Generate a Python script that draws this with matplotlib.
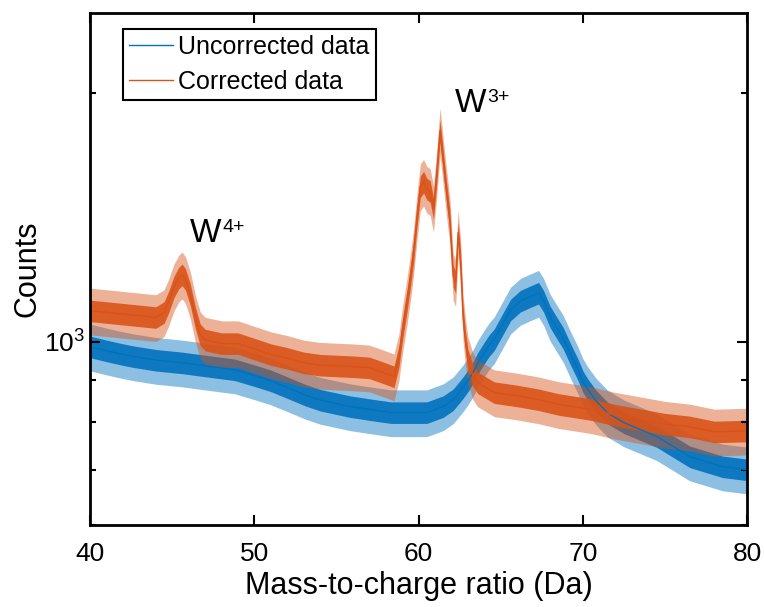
import numpy as np
import matplotlib
matplotlib.use("Agg")
import matplotlib.pyplot as plt
from matplotlib.ticker import LogLocator, NullFormatter, FixedLocator, FixedFormatter

plt.rcParams['font.family'] = ['Liberation Sans', 'DejaVu Sans']
plt.rcParams['mathtext.fontset'] = 'custom'
plt.rcParams['mathtext.rm'] = 'Liberation Sans'
plt.rcParams['mathtext.default'] = 'regular'

# uncorrected spectrum (band centre)
mz_unc = [40.0, 41.0, 42.0, 42.7, 44.0, 45.6, 47.0, 48.8, 50.0, 51.0, 51.9, 53.1, 54.0,
          55.8, 57.0, 58.3, 60.5, 61.5, 62.1, 62.7, 63.0, 63.3, 63.6, 64.0, 64.3, 64.6,
          65.0, 65.6, 66.2, 66.8, 67.3, 67.6, 68.0, 68.4, 68.8, 69.2, 69.7, 70.0, 70.3,
          70.8, 71.5, 72.5, 74.5, 76.5, 78.5, 80.0]
counts_unc = [986, 975, 965, 959, 950, 943, 935, 925, 910, 897, 882, 862, 850,
              835, 828, 821, 821, 835, 851, 880, 897, 917, 942, 970, 990, 1006,
              1040, 1093, 1120, 1134, 1145, 1120, 1072, 1040, 1010, 970, 925, 895, 875,
              848, 820, 798, 768, 726, 706, 700]

# corrected spectrum
mz_cor = [40.0, 41.0, 42.0, 43.0, 44.0, 44.5, 44.8, 45.1, 45.4, 45.6, 45.8, 46.1, 46.4,
          46.7, 47.0, 48.0, 49.0, 50.0, 51.0, 52.0, 53.0, 54.0, 55.0, 56.0, 57.0, 58.0,
          58.5, 58.8, 59.0, 59.3, 59.5, 59.7, 59.9, 60.1, 60.3, 60.5, 60.7, 60.9, 61.1,
          61.3, 61.5, 61.7, 61.9, 62.1, 62.25, 62.4, 62.55, 62.7, 62.85, 63.0, 63.3, 63.6,
          64.6, 66.0, 67.3, 68.5, 70.5, 72.0, 73.5, 75.0, 76.5, 78.0, 80.0]
counts_cor = [1090, 1085, 1080, 1075, 1070, 1085, 1120, 1165, 1195, 1205, 1190, 1140, 1070,
              1020, 1005, 995, 995, 980, 965, 955, 943, 937, 935, 933, 930, 915,
              907, 960, 1030, 1124, 1200, 1291, 1420, 1540, 1560, 1530, 1520, 1450, 1600,
              1800, 1650, 1514, 1400, 1200, 1180, 1355, 1250, 1072, 1000, 951, 910, 892,
              868, 860, 851, 840, 828, 815, 805, 795, 789, 778, 780]

# half widths of the noise band (fraction of counts): dense core, outer spikes
core_spread = 0.03
outer_spread = 0.065

blue = '#0072BD'
orange = '#D95319'

fig = plt.figure(figsize=(7.64, 6.07), dpi=100)
ax = fig.add_axes([0.118, 0.135, 0.860, 0.844])

for x, y, c, lab in [(mz_unc, counts_unc, blue, 'Uncorrected data'),
                     (mz_cor, counts_cor, orange, 'Corrected data')]:
    x = np.array(x)
    y = np.array(y)
    ax.fill_between(x, y * (1 - outer_spread), y * (1 + outer_spread), color=c, alpha=0.45, lw=0)
    ax.fill_between(x, y * (1 - core_spread), y * (1 + core_spread), color=c, alpha=0.9, lw=0)
    ax.plot(x, y, color=c, lw=1.0, label=lab)

ax.set_yscale('log')
ax.set_xlim(40, 80)
ax.set_ylim(600, 2500)

ax.set_xticks([40, 50, 60, 70, 80])
ax.yaxis.set_major_locator(FixedLocator([1000]))
ax.yaxis.set_major_formatter(FixedFormatter(['$10^3$']))
ax.yaxis.set_minor_locator(LogLocator(base=10, subs=np.arange(2, 10)))
ax.yaxis.set_minor_formatter(NullFormatter())

ax.tick_params(which='both', direction='in', top=True, right=True, labelsize=19, width=1.5)
ax.tick_params(which='major', length=7)
ax.tick_params(which='minor', length=4)
ax.tick_params(axis='x', pad=12)
for s in ax.spines.values():
    s.set_linewidth(2)

ax.set_xlabel('Mass-to-charge ratio (Da)', fontsize=22, labelpad=4)
ax.set_ylabel('Counts', fontsize=22, labelpad=1)

# peak labels: W with a small superscript charge
for xt, yt, charge in [(46.1, 1321, '4+'), (62.2, 1897, '3+')]:
    ax.text(xt, yt, 'W', fontsize=24)
    ax.annotate(charge, xy=(xt, yt), xytext=(23, 7), textcoords='offset points',
                fontsize=14)

leg = ax.legend(loc='upper left', bbox_to_anchor=(0.05, 0.969), borderaxespad=0,
                fontsize=18, fancybox=False, framealpha=1, edgecolor='black',
                handlelength=1.75, handletextpad=0.2, borderpad=0.25, labelspacing=0.45)
leg.get_frame().set_linewidth(1.5)

fig.savefig('out.png', dpi=100)
